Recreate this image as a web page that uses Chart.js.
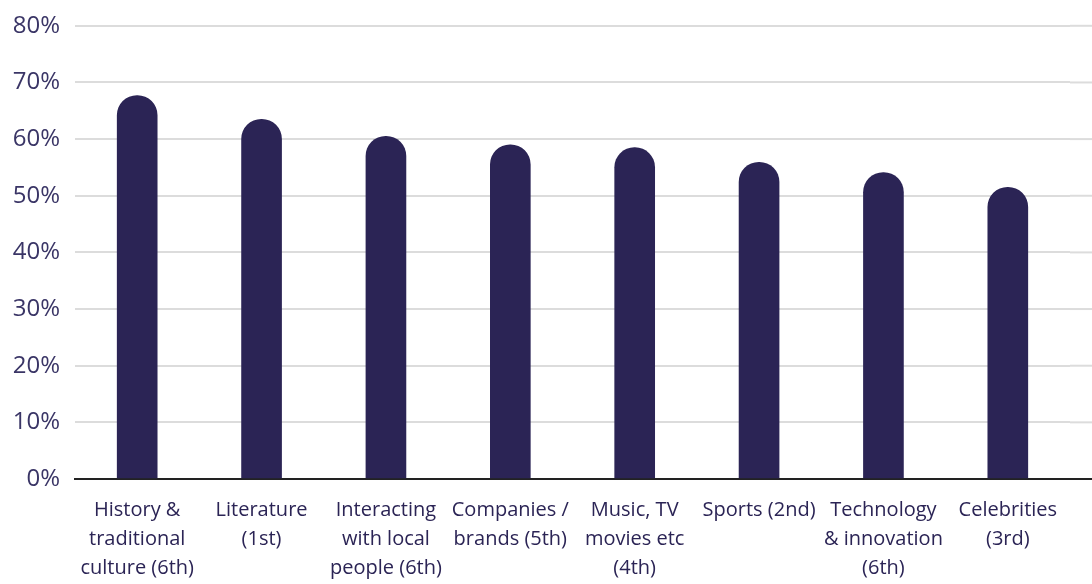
<!DOCTYPE html>
<html lang="en">
<head>
    <meta charset="UTF-8">
    <title>Interest by topic</title>
    <script src="https://cdn.jsdelivr.net/npm/chart.js"></script>
    <style>
        html, body { margin: 0; padding: 0; background: #fff; }
        #wrap { width: 1092px; height: 584px; }
    </style>
</head>
<body>
    <div id="wrap"><canvas id="myChart" width="1092" height="584"></canvas></div>
    <script>
        const categories = [
            ['History &', 'traditional', 'culture (6th)'],
            ['Literature', '(1st)'],
            ['Interacting', 'with local', 'people (6th)'],
            ['Companies /', 'brands (5th)'],
            ['Music, TV', 'movies etc', '(4th)'],
            ['Sports (2nd)'],
            ['Technology', '& innovation', '(6th)'],
            ['Celebrities', '(3rd)']
        ];
        const shares = [67.7, 63.5, 60.5, 59.0, 58.5, 55.9, 54.1, 51.5];
        const yTicks = [0, 10, 20, 30, 40, 50, 60, 70, 80];

        const navy = '#2b2455';
        const gridColor = '#dcdcdc';

        // carry the horizontal grid on past the plot area to the page edge
        const gridTail = {
            id: 'gridTail',
            beforeDatasetsDraw(chart) {
                const { ctx, chartArea, scales } = chart;
                ctx.save();
                yTicks.forEach(t => {
                    const y = scales.y.getPixelForValue(t);
                    ctx.beginPath();
                    ctx.lineWidth = 2;
                    ctx.strokeStyle = t === 0 ? '#222' : gridColor;
                    ctx.moveTo(chartArea.right, y);
                    ctx.lineTo(chart.width, y);
                    ctx.stroke();
                });
                ctx.restore();
            }
        };

        new Chart(document.getElementById('myChart').getContext('2d'), {
            type: 'bar',
            data: {
                labels: categories,
                datasets: [{
                    data: shares,
                    backgroundColor: navy,
                    barThickness: 40,
                    borderRadius: 20,
                    borderSkipped: 'bottom'
                }]
            },
            options: {
                responsive: false,
                animation: false,
                layout: { padding: { top: 0, right: 22, left: 0, bottom: 0 } },
                plugins: { legend: { display: false }, tooltip: { enabled: false } },
                scales: {
                    x: {
                        grid: { display: false },
                        border: { display: true, color: '#222', width: 2 },
                        ticks: {
                            color: '#2b2455',
                            padding: 9,
                            maxRotation: 0,
                            autoSkip: false,
                            font: { family: 'Open Sans', size: 20, lineHeight: 1.45 }
                        },
                        afterFit(scale) { scale.height = 105; }
                    },
                    y: {
                        min: 0,
                        max: 80,
                        afterBuildTicks(scale) { scale.ticks = yTicks.map(v => ({ value: v })); },
                        grid: { color: gridColor, lineWidth: 2, drawTicks: false },
                        border: { display: false },
                        ticks: {
                            color: '#3a3566',
                            padding: 15,
                            font: { family: 'Open Sans', size: 24, lineHeight: 0.9 },
                            callback: v => v + '%'
                        },
                        afterFit(scale) { scale.width = 75; }
                    }
                }
            },
            plugins: [gridTail]
        });
    </script>
</body>
</html>
